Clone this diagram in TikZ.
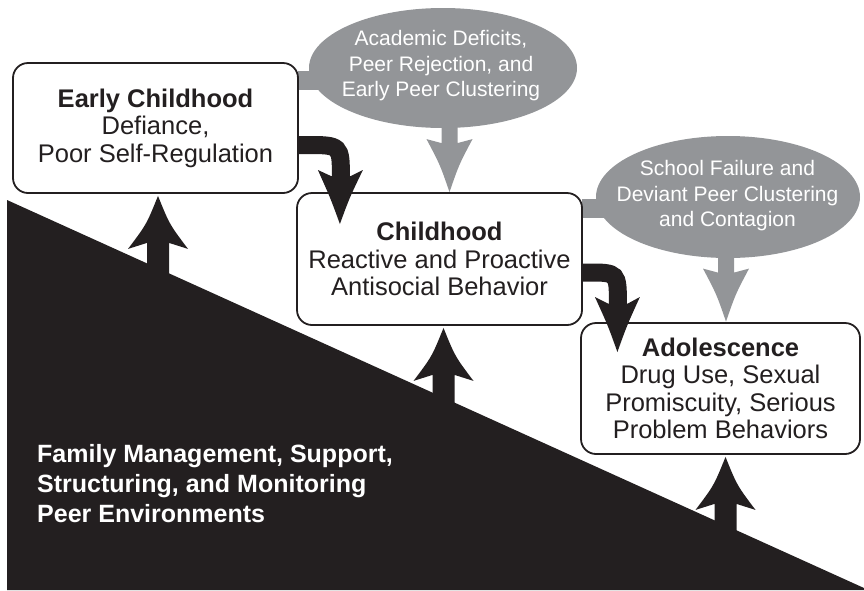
\documentclass[tikz,border=0pt]{standalone}
\usepackage{fontspec}
\setmainfont{Liberation Sans}
\usetikzlibrary{shapes.geometric,calc}
\pgfdeclarelayer{bg}
\pgfsetlayers{bg,main}
\definecolor{blk}{RGB}{35,31,32}
\definecolor{gry}{RGB}{147,149,152}
\begin{document}
\begin{tikzpicture}[x=1pt,y=-1pt,
  stagebox/.style={draw=blk, line width=1.8pt, rounded corners=15pt, fill=white, text=blk,
    align=center, inner sep=0pt, font=\fontsize{25.5}{27.5}\selectfont},
  bubble/.style={ellipse, fill=gry, draw=none, inner sep=0pt},
  bubbletext/.style={text=white, align=center, inner sep=0pt, font=\fontsize{21}{25.5}\selectfont},
  upshaft/.style={fill=blk},
  grayarrow/.style={fill=gry},
  curvearrow/.style={draw=blk, line width=18pt},
]
\useasboundingbox (0,0) rectangle (864,590);

% stage boxes
\node[stagebox, minimum width=285pt, minimum height=130pt] (ec) at (155.5,128)
  {\textbf{Early Childhood}\\Defiance,\\Poor Self-Regulation};
\node[stagebox, minimum width=285pt, minimum height=132pt] (ch) at (439.5,259)
  {\textbf{Childhood}\\Reactive and Proactive\\Antisocial Behavior};
\node[stagebox, minimum width=279pt, minimum height=131pt] (ad) at (720.5,388.5)
  {\textbf{Adolescence}\\Drug Use, Sexual\\Promiscuity, Serious\\Problem Behaviors};

% influence bubbles
\node[bubble, minimum width=268pt, minimum height=120pt] (e1) at (443,68) {};
\node[bubbletext] (e1t) at (441,66) {Academic Deficits,\\Peer Rejection, and\\Early Peer Clustering};
\node[bubble, minimum width=264pt, minimum height=122pt] (e2) at (728,197) {};
\node[bubbletext] (e2t) at (727.5,196) {School Failure and\\Deviant Peer Clustering\\and Contagion};

% family text
\node[anchor=north west, text=white, align=left, inner sep=0pt,
  font=\bfseries\fontsize{25}{30}\selectfont] (fam) at (37,444)
  {Family Management, Support,\\Structuring, and Monitoring\\Peer Environments};

% coordinates
\coordinate (u1) at ($(ec.south)+(2.5,2)$);
\coordinate (u2) at ($(ch.south)+(4,2)$);
\coordinate (u3) at ($(ad.south)+(5,2)$);
\coordinate (g1) at ($(ch.north)+(10,0)$);
\coordinate (g2) at ($(ad.north)+(5.5,-0.5)$);
\coordinate (c1s) at ($(ec.east)+(-1,17)$);
\coordinate (c2s) at ($(ch.east)+(-1,13.5)$);

\begin{pgfonlayer}{bg}
  % black triangle
  \fill[blk] (7,200) -- (864,588) -- (864,590) -- (7,590) -- cycle;
  % tabs joining bubbles to boxes
  \fill[gry] ($(ec.north east)+(-1,9)$) rectangle ($(e1.west)+(12,22)$);
  \fill[gry] ($(ch.north east)+(-1,7)$) rectangle ($(e2.west)+(12,21)$);
  % gray arrows
  \foreach \t in {g1,g2} {
    \fill[grayarrow, shift={(\t)}] (0,0) .. controls (-9.5,-27.5) .. (-23,-53) -- (-8,-49)
      -- (-8,-95) -- (8,-95) -- (8,-49) -- (23,-53) .. controls (9.5,-27.5) .. (0,0) -- cycle;
  }
\end{pgfonlayer}

% upward arrows from the family triangle
\foreach \t in {u1,u2,u3} {
  \fill[upshaft, shift={(\t)}] (0,0) .. controls (11.5,28.5) .. (30,53) -- (11,47)
    -- (11,110) -- (-11,110) -- (-11,47) -- (-30,53) .. controls (-11.5,28.5) .. (0,0) -- cycle;
}

% curved arrows between stages
\begin{scope}[shift={(c1s)}]
  \draw[curvearrow] (0,0) -- (8,0) .. controls (43,0) .. (43,33);
  \fill[blk] (42,79) .. controls (32.5,53) .. (20,25) -- (33,31) -- (53,31) -- (65,25)
    .. controls (51.5,53) .. (42,79) -- cycle;
\end{scope}
\begin{scope}[shift={(c2s)}]
  \draw[curvearrow] (0,0) -- (6,0) .. controls (36,0) .. (36,32);
  \fill[blk] (35.5,79.5) .. controls (26,53) .. (13,24.5) -- (26,31) -- (46,31) -- (58,24.5)
    .. controls (45,53) .. (35.5,79.5) -- cycle;
\end{scope}
\end{tikzpicture}
\end{document}
